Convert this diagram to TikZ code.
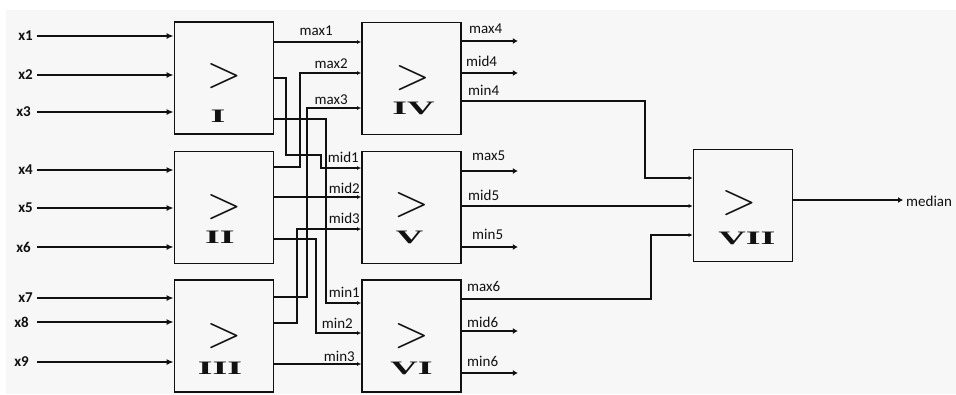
\documentclass[tikz,border=0pt]{standalone}
\usepackage{fontspec}
\setmainfont{Carlito}
\newfontfamily\romfont{Liberation Serif}
\usetikzlibrary{arrows.meta}
\definecolor{bggray}{HTML}{F7F7F7}
\definecolor{ink}{HTML}{111111}
\tikzset{
  cmp/.style={draw=ink, line width=1.8pt, fill=bggray, minimum width=99pt, minimum height=112pt, inner sep=0pt},
  gt/.style={inner sep=0pt, text=ink, font=\fontsize{20}{20}\selectfont},
  num/.style={inner sep=0pt, text=ink, font=\romfont\bfseries\fontsize{19}{19}\selectfont},
  wire/.style={draw=ink, line width=1.8pt},
  inw/.style={wire, -{Latex[length=7pt,width=6pt]}},
  tow/.style={wire, -{Latex[length=4pt,width=4pt]}},
  outw/.style={wire, -{Latex[length=5pt,width=6pt]}},
  lbl/.style={inner sep=0pt, text=ink, font=\fontsize{15}{15}\selectfont},
  xin/.style={inner sep=0pt, text=ink, anchor=east, font=\bfseries\fontsize{15}{15}\selectfont},
}
\begin{document}
\begin{tikzpicture}[x=1pt, y=-1pt]
\useasboundingbox (0,0) rectangle (956,394);
\fill[white] (0,0) rectangle (956,394);
\fill[bggray] (6,10) rectangle (956,394);

% comparator boxes
\node[cmp] (I) at (224,78) {};
\node[cmp] (II) at (224,207.5) {};
\node[cmp] (III) at (224,336) {};
\node[cmp] (IV) at (411.5,78.5) {};
\node[cmp] (V) at (411.5,207.5) {};
\node[cmp] (VI) at (411.5,336) {};
\node[cmp] (VII) at (743,205.5) {};

\node[gt] (gtI) at ([yshift=2pt]I.center) {\scalebox{2.2}{$>$}};
\node[gt] (gtII) at (II.center) {\scalebox{2.2}{$>$}};
\node[gt] (gtIII) at (III.center) {\scalebox{2.2}{$>$}};
\node[gt] (gtIV) at ([xshift=1pt]IV.center) {\scalebox{2.2}{$>$}};
\node[gt] (gtV) at ([yshift=2pt]V.center) {\scalebox{2.2}{$>$}};
\node[gt] (gtVI) at (VI.center) {\scalebox{2.2}{$>$}};
\node[gt] (gtVII) at ([xshift=-4pt,yshift=2pt]VII.center) {\scalebox{2.2}{$>$}};

\node[num] (nI) at ([xshift=-6pt,yshift=-38pt]I.center) {\scalebox{2}[1]{I}};
\node[num] (nII) at ([xshift=-4pt,yshift=-30pt]II.center) {\scalebox{2}[1]{II}};
\node[num] (nIII) at ([xshift=-4pt,yshift=-32pt]III.center) {\scalebox{2}[1]{III}};
\node[num] (nIV) at ([xshift=2pt,yshift=-30pt]IV.center) {\scalebox{2}[1]{IV}};
\node[num] (nV) at ([xshift=-2pt,yshift=-30pt]V.center) {\scalebox{2}[1]{V}};
\node[num] (nVI) at ([yshift=-32pt]VI.center) {\scalebox{2}[1]{VI}};
\node[num] (nVII) at ([xshift=4pt,yshift=-33pt]VII.center) {\scalebox{2}[1]{VII}};

% inputs
\node[xin] (x1) at (33,36) {x1};
\node[xin] (x2) at (33,75) {x2};
\node[xin] (x3) at (31,112) {x3};
\node[xin] (x4) at (33,170) {x4};
\node[xin] (x5) at (33,208) {x5};
\node[xin] (x6) at (31,247) {x6};
\node[xin] (x7) at (33,298) {x7};
\node[xin] (x8) at (29,322) {x8};
\node[xin] (x9) at (29,362) {x9};
\draw[inw] (37,36) -- (I.west |- x1);
\draw[inw] (37,75) -- (I.west |- x2);
\draw[inw] (37,112) -- (I.west |- x3);
\draw[inw] (37,170) -- (II.west |- x4);
\draw[inw] (37,208) -- (II.west |- x5);
\draw[inw] (37,247) -- (II.west |- x6);
\draw[inw] (37,298) -- (III.west |- x7);
\draw[inw] (37,322) -- (III.west |- x8);
\draw[inw] (37,362) -- (III.west |- x9);

% first stage to second stage
\draw[tow] (I.east |- 0,42) -- (IV.west |- 0,42);
\draw[tow] (I.east |- 0,78) -| (286,155) -| (321,168) -- (V.west |- 0,168);
\draw[tow] (I.east |- 0,119) -| (326,303) -- (VI.west |- 0,303);
\draw[tow] (II.east |- 0,167) -| (300,73) -- (IV.west |- 0,73);
\draw[tow] (II.east |- 0,197) -- (V.west |- 0,197);
\draw[tow] (II.east |- 0,239) -| (316,333) -- (VI.west |- 0,333);
\draw[tow] (III.east |- 0,297) -| (307,108) -- (IV.west |- 0,108);
\draw[tow] (III.east |- 0,323) -| (297,229) -- (V.west |- 0,229);
\draw[tow] (III.east |- 0,364) -- (VI.west |- 0,364);

\node[lbl, anchor=base east] (lmax1) at (333,35) {max1};
\node[lbl, anchor=base east] (lmax2) at (348,68) {max2};
\node[lbl, anchor=base east] (lmax3) at (348,104) {max3};
\node[lbl, anchor=base east] (lmid1) at (359,162) {mid1};
\node[lbl, anchor=base east] (lmid2) at (360,193) {mid2};
\node[lbl, anchor=base east] (lmid3) at (360,223) {mid3};
\node[lbl, anchor=base east] (lmin1) at (360,297) {min1};
\node[lbl, anchor=base east] (lmin2) at (353,328) {min2};
\node[lbl, anchor=base east] (lmin3) at (355,361) {min3};

% second stage outputs
\draw[outw] (IV.east |- 0,41) -- ++(56,0);
\draw[outw] (IV.east |- 0,73) -- ++(56,0);
\draw[tow] (IV.east |- 0,101) -| (645,178) -- (VII.west |- 0,178);
\draw[outw] (V.east |- 0,171) -- ++(56,0);
\draw[tow] (V.east |- 0,206) -- (VII.west |- 0,206);
\draw[outw] (V.east |- 0,247) -- ++(56,0);
\draw[tow] (VI.east |- 0,299) -| (651,235) -- (VII.west |- 0,235);
\draw[outw] (VI.east |- 0,331) -- ++(56,0);
\draw[outw] (VI.east |- 0,373) -- ++(56,0);

\node[lbl, anchor=base west] (lmax4) at (469,33) {max4};
\node[lbl, anchor=base west] (lmid4) at (466,66) {mid4};
\node[lbl, anchor=base west] (lmin4) at (468,95) {min4};
\node[lbl, anchor=base west] (lmax5) at (472,160) {max5};
\node[lbl, anchor=base west] (lmid5) at (468,200) {mid5};
\node[lbl, anchor=base west] (lmin5) at (472,239) {min5};
\node[lbl, anchor=base west] (lmax6) at (467,291) {max6};
\node[lbl, anchor=base west] (lmid6) at (467,327) {mid6};
\node[lbl, anchor=base west] (lmin6) at (467,366) {min6};

% final output
\node[lbl, anchor=west] (median) at (906,201) {median};
\draw[outw] (VII.east |- 0,200) -- ([xshift=-3pt]median.west |- 0,200);
\end{tikzpicture}
\end{document}
